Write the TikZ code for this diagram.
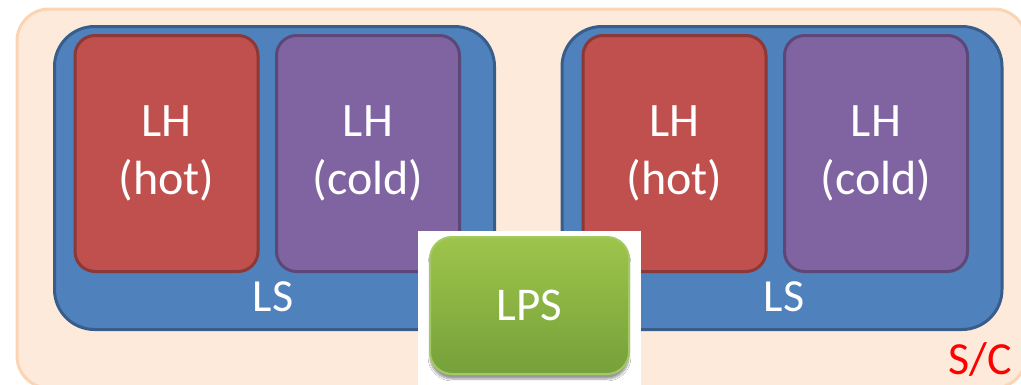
\documentclass[tikz,border=0pt]{standalone}
\usepackage{fontspec}
\setmainfont{Carlito}
\usetikzlibrary{shadows.blur}

\definecolor{scfill}{HTML}{FDEADA}
\definecolor{scline}{HTML}{FBD4B4}
\definecolor{lsfill}{HTML}{4F81BD}
\definecolor{lsline}{HTML}{385D8A}
\definecolor{hotfill}{HTML}{C0504D}
\definecolor{hotline}{HTML}{8C3836}
\definecolor{coldfill}{HTML}{8064A2}
\definecolor{coldline}{HTML}{5C4776}
\definecolor{lpstop}{HTML}{9DC54B}
\definecolor{lpsbottom}{HTML}{76A03A}
\definecolor{lpsline}{HTML}{A3C864}

\tikzset{
  lsbox/.style={draw=lsline, fill=lsfill, line width=3pt, rounded corners=40pt,
    minimum width=440pt, minimum height=303pt},
  lhbox/.style={line width=3pt, rounded corners=20pt, minimum width=183pt,
    minimum height=236pt, align=center, text=white,
    font=\fontsize{48}{58}\selectfont},
  hotbox/.style={lhbox, draw=hotline, fill=hotfill},
  coldbox/.style={lhbox, draw=coldline, fill=coldfill},
  lstext/.style={text=white, font=\fontsize{46}{55}\selectfont},
}

\begin{document}
\begin{tikzpicture}[x=1pt,y=-1pt]
\useasboundingbox (0,0) rectangle (1021,384);

% S/C
\path[draw=scline, fill=scfill, line width=3pt, rounded corners=32pt] (17,9) rectangle (1026,388);
\node[text=red, font=\fontsize{46}{54}\selectfont] (sc) at (980,359) {S/C};

% left LS
\node[lsbox] (lsA) at (274.5,178) {};
\node[hotbox] (hotA) at (166.5,153.5) {LH\\(hot)};
\node[coldbox] (coldA) at (368,153.5) {LH\\(cold)};
\node[lstext] (lsAtext) at (273,297) {LS};

% right LS
\node[lsbox] (lsB) at (782,178) {};
\node[hotbox] (hotB) at (674.5,153.5) {LH\\(hot)};
\node[coldbox] (coldB) at (876,153.5) {LH\\(cold)};
\node[lstext] (lsBtext) at (784,297) {LS};

% LPS
\node[fill=white, minimum width=223pt, minimum height=160pt] (lpsback) at (529.5,310.5) {};
\node[draw=lpsline, line width=2pt, top color=lpstop, bottom color=lpsbottom,
  rounded corners=22pt, minimum width=199pt, minimum height=137pt,
  blur shadow={shadow xshift=0pt, shadow yshift=-5pt, shadow blur steps=6},
  text=white, font=\fontsize{47}{55}\selectfont] (lps) at (529.5,305.5) {LPS};
\end{tikzpicture}
\end{document}
